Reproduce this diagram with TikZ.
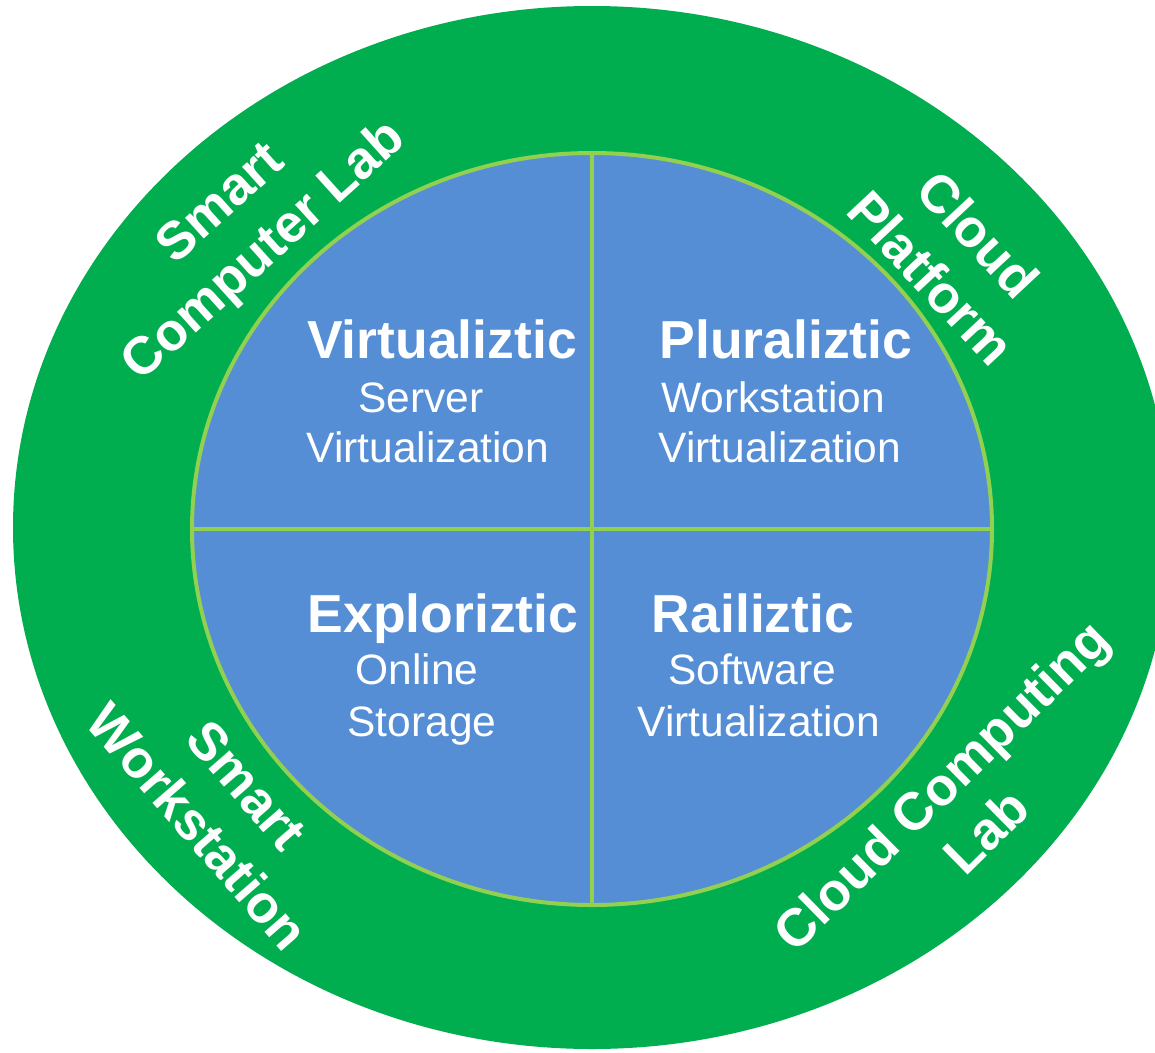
\documentclass[tikz,border=0pt]{standalone}
\usepackage{fontspec}
\setmainfont{Liberation Sans}
\usetikzlibrary{shapes.geometric}
\definecolor{ringgreen}{HTML}{00AD4F}
\definecolor{coreblue}{HTML}{558ED5}
\definecolor{divgreen}{HTML}{92D050}
\tikzset{
  ringtext/.style={text=white, align=center, inner sep=0pt, font=\fontsize{53}{64}\selectfont\bfseries},
  titletext/.style={text=white, anchor=base, inner sep=0pt, font=\fontsize{53.5}{60}\selectfont\bfseries},
  subtext/.style={text=white, anchor=base, inner sep=0pt, font=\fontsize{42.5}{48}\selectfont},
  divider/.style={draw=divgreen, line width=4pt}
}
\begin{document}
\begin{tikzpicture}[x=1pt,y=-1pt]
\useasboundingbox (0,0) rectangle (1155,1052);
\clip (0,0) rectangle (1155,1052);
\fill[white] (0,0) rectangle (1155,1052);
\node[ellipse, fill=ringgreen, inner sep=0pt, minimum width=1158pt, minimum height=1043pt] (outer) at (592,527.5) {};
\node[ellipse, fill=coreblue, divider, inner sep=0pt, minimum width=800pt, minimum height=752pt] (inner) at (592,529) {};
\draw[divider] (inner.north) -- (inner.south);
\draw[divider] (inner.west) -- (inner.east);
% quadrant texts
\node[titletext] (t1) at (442,358) {Virtualiztic};
\node[subtext] (s1a) at (421,412) {Server};
\node[subtext] (s1b) at (428,462) {Virtualization};
\node[titletext] (t2) at (786,358) {Pluraliztic};
\node[subtext] (s2a) at (773,412) {Workstation};
\node[subtext] (s2b) at (780,462) {Virtualization};
\node[titletext] (t3) at (443,632) {Exploriztic};
\node[subtext] (s3a) at (417,684) {Online};
\node[subtext] (s3b) at (422,736) {Storage};
\node[titletext] (t4) at (753,632) {Railiztic};
\node[subtext] (s4a) at (752,684) {Software};
\node[subtext] (s4b) at (759,736) {Virtualization};
% ring texts
\node[ringtext, rotate=42] (r1) at (244,229) {Smart\\Computer Lab};
\node[ringtext, rotate=-47] (r2) at (955,256) {Cloud\\Platform};
\node[ringtext, rotate=-49] (r3) at (222,806) {Smart\\Workstation};
\node[ringtext, rotate=44.5] (r4) at (963,808) {Cloud Computing\\Lab};
\end{tikzpicture}
\end{document}
